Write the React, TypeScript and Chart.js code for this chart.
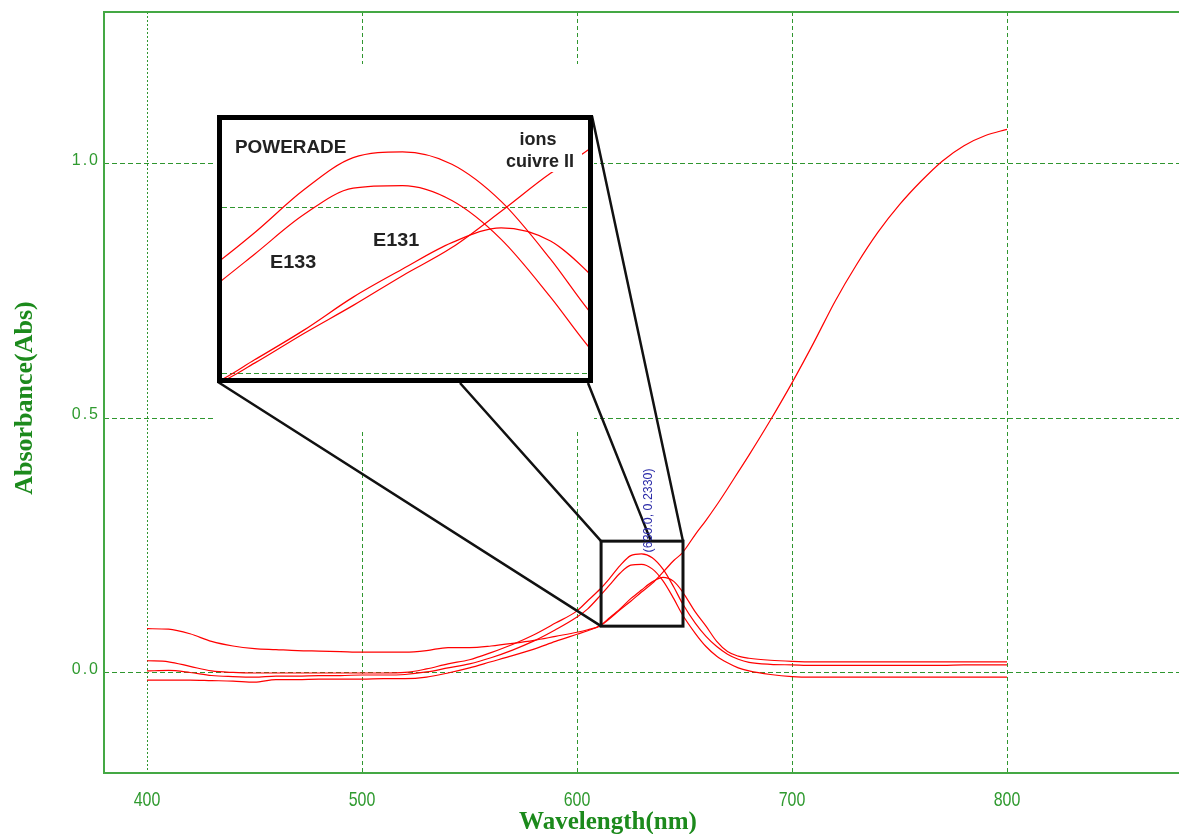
import { useEffect, useRef } from "react";
import { Chart, registerables } from "chart.js";

Chart.register(...registerables);

// ---------- data (wavelength in nm, absorbance) ----------
const wavelengths = [
  400, 410, 420, 430, 440, 450, 460, 470, 480, 490, 500, 510, 520, 530, 540, 550, 560, 570, 580, 590, 600,
  605, 611, 615, 620, 625, 630, 635, 640, 645, 649,
  655, 660, 665, 670, 675, 680,
  690, 700, 710, 720, 730, 740, 750, 760, 770, 780, 790, 800,
];

const cuivreII = [
  0.087, 0.086, 0.077, 0.062, 0.053, 0.048, 0.046, 0.044, 0.043, 0.042, 0.041, 0.041, 0.041, 0.044, 0.05, 0.05, 0.053, 0.058, 0.064, 0.072, 0.08,
  0.085, 0.093, 0.106, 0.124, 0.141, 0.159, 0.176, 0.198, 0.221, 0.236,
  0.272, 0.3, 0.33, 0.362, 0.395, 0.428,
  0.497, 0.57, 0.648, 0.73, 0.802, 0.866, 0.92, 0.966, 1.006, 1.036, 1.056, 1.068,
];

const powerade = [
  0.024, 0.022, 0.013, 0.004, 0.001, 0.0, 0.0, 0.0, 0.0, 0.0, 0.0, 0.0, 0.001, 0.008, 0.018, 0.026, 0.04, 0.056, 0.075, 0.098, 0.122,
  0.142, 0.166, 0.185, 0.211, 0.2305, 0.234, 0.2265, 0.204, 0.169, 0.137,
  0.098, 0.072, 0.052, 0.037, 0.027, 0.021,
  0.017, 0.016, 0.015, 0.015, 0.015, 0.015, 0.015, 0.015, 0.015, 0.016, 0.016, 0.016,
];

const e133 = [
  0.004, 0.005, 0.001, -0.005, -0.007, -0.008, -0.006, -0.006, -0.005, -0.005, -0.004, -0.004, -0.003, 0.002, 0.01, 0.018, 0.03, 0.045, 0.063, 0.085, 0.11,
  0.126, 0.153, 0.172, 0.196, 0.212, 0.2135, 0.2045, 0.181, 0.146, 0.115,
  0.078, 0.052, 0.033, 0.02, 0.01, 0.004,
  -0.003, -0.007, -0.008, -0.008, -0.008, -0.008, -0.008, -0.008, -0.008, -0.008, -0.008, -0.008,
];

const e131 = [
  -0.014, -0.014, -0.014, -0.015, -0.016, -0.018, -0.013, -0.013, -0.012, -0.012, -0.012, -0.011, -0.011, -0.008, 0.0, 0.01, 0.022, 0.034, 0.047, 0.062, 0.076,
  0.083, 0.094, 0.108, 0.126, 0.146, 0.163, 0.179, 0.188, 0.18, 0.16,
  0.12, 0.092, 0.062, 0.042, 0.033, 0.029,
  0.025, 0.023, 0.022, 0.022, 0.022, 0.022, 0.022, 0.022, 0.022, 0.022, 0.022, 0.022,
];

const seriesNames = ["ions cuivre II", "POWERADE", "E133", "E131"];

const xTickValues = [400, 500, 600, 700, 800];
const xTickLabels = ["400", "500", "600", "700", "800"];
const yTickValues = [0.0, 0.5, 1.0];
const yTickLabels = ["0.0", "0.5", "1.0"];

const xRange = [380, 880];
const yRange = [-0.1965, 1.2986];

// zoom window (data coordinates) shown in the inset
const zoomX = [611.2, 649.3];
const zoomY = [0.092, 0.259];
const insetXRange = [611.7, 648.8];
const insetYRange = [0.097, 0.2533];
const insetGridValues = [0.1, 0.2];

const peakPoint = [630.0, 0.233];
const peakLabel = "(630.0, 0.2330)";

const xTitle = "Wavelength(nm)";
const yTitle = "Absorbance(Abs)";

// ---------- styling ----------
const GREEN = "#2f9a2f";
const GRID = "#2f962f";
const RED = "#ff0000";

const W = 1179;
const H = 834;
const INSET = { left: 217, top: 115, width: 376, height: 268, frame: 5 };

const series = [cuivreII, powerade, e133, e131];

function toPoints(ys: number[]) {
  return wavelengths.map((x, i) => ({ x, y: ys[i] }));
}

function scaledText(
  ctx: CanvasRenderingContext2D,
  text: string,
  x: number,
  y: number,
  font: string,
  color: string,
  sx: number,
  align: CanvasTextAlign,
  spacing = "0px"
) {
  ctx.save();
  ctx.font = font;
  ctx.fillStyle = color;
  ctx.textAlign = align;
  ctx.textBaseline = "alphabetic";
  (ctx as any).letterSpacing = spacing;
  ctx.translate(x, y);
  ctx.scale(sx, 1);
  ctx.fillText(text, 0, 0);
  ctx.restore();
}

const mainDecor = {
  id: "mainDecor",
  beforeDatasetsDraw(chart: any) {
    const { ctx } = chart;
    // white area behind the inset (hides the grid there)
    ctx.save();
    ctx.fillStyle = "#ffffff";
    ctx.fillRect(INSET.left - 3, 64, INSET.width + 4, 365);
    ctx.restore();
  },
  afterDatasetsDraw(chart: any) {
    const { ctx, chartArea: a, scales } = chart;
    const xs = scales.x;
    const ys = scales.y;
    ctx.save();
    // frame (left, top, bottom)
    ctx.fillStyle = "#44a844";
    ctx.fillRect(a.left - 1, a.top - 1, 2, a.bottom - a.top + 2);
    ctx.fillRect(a.left - 1, a.top - 1, a.right - a.left + 1, 2);
    ctx.fillRect(a.left - 1, a.bottom - 1, a.right - a.left + 1, 2);

    // zoom box
    const bx1 = xs.getPixelForValue(zoomX[0]);
    const bx2 = xs.getPixelForValue(zoomX[1]);
    const by1 = ys.getPixelForValue(zoomY[1]);
    const by2 = ys.getPixelForValue(zoomY[0]);
    ctx.strokeStyle = "#111111";
    ctx.lineWidth = 3;
    ctx.strokeRect(bx1, by1, bx2 - bx1, by2 - by1);

    // connector lines from inset to box
    const iL = INSET.left;
    const iT = INSET.top;
    const iR = INSET.left + INSET.width;
    const iB = INSET.top + INSET.height;
    const midTop = xs.getPixelForValue(634.4);
    ctx.lineWidth = 2.5;
    ctx.beginPath();
    ctx.moveTo(iL + 1, iB - 1);
    ctx.lineTo(bx1, by2);
    ctx.moveTo(460, iB);
    ctx.lineTo(bx1, by1);
    ctx.moveTo(588, iB);
    ctx.lineTo(midTop, by1);
    ctx.moveTo(iR - 1, iT + 1);
    ctx.lineTo(bx2, by1);
    ctx.stroke();

    // peak annotation (vertical)
    const px = xs.getPixelForValue(peakPoint[0]);
    const py = ys.getPixelForValue(peakPoint[1]);
    ctx.save();
    ctx.translate(px + 10, py - 2);
    ctx.rotate(-Math.PI / 2);
    ctx.font = "12px 'Liberation Sans', Arial, sans-serif";
    ctx.fillStyle = "#2a2aa8";
    ctx.textAlign = "left";
    ctx.textBaseline = "alphabetic";
    const tw = ctx.measureText(peakLabel).width;
    ctx.scale(84 / tw, 1);
    ctx.fillText(peakLabel, 0, 0);
    ctx.restore();

    // tick labels
    xTickValues.forEach((v, i) => {
      scaledText(ctx, xTickLabels[i], xs.getPixelForValue(v), 806, "21px 'Liberation Sans', Arial, sans-serif", GREEN, 0.76, "center");
    });
    yTickValues.forEach((v, i) => {
      scaledText(ctx, yTickLabels[i], 100, ys.getPixelForValue(v) + 1, "16px 'Liberation Sans', Arial, sans-serif", GREEN, 1, "right", "2px");
    });

    // axis titles
    scaledText(ctx, xTitle, 608, 829, "bold 25px 'Liberation Serif', 'Times New Roman', serif", "#1c8a1c", 1, "center");
    ctx.save();
    ctx.translate(32, 398);
    ctx.rotate(-Math.PI / 2);
    ctx.font = "bold 26px 'Liberation Serif', 'Times New Roman', serif";
    ctx.fillStyle = "#1c8a1c";
    ctx.textAlign = "center";
    ctx.textBaseline = "alphabetic";
    ctx.fillText(yTitle, 0, 0);
    ctx.restore();

    ctx.restore();
  },
};

const insetDecor = {
  id: "insetDecor",
  beforeDraw(chart: any) {
    const { ctx, width, height } = chart;
    ctx.save();
    ctx.fillStyle = "#ffffff";
    ctx.fillRect(0, 0, width, height);
    ctx.restore();
  },
  afterDatasetsDraw(chart: any) {
    const { ctx } = chart;
    ctx.save();
    const font = "bold 18px 'Liberation Sans', Arial, sans-serif";
    const col = "#222222";
    const ox = INSET.left;
    const oy = INSET.top;
    // white patch behind the "cuivre II" label
    ctx.fillStyle = "#ffffff";
    ctx.fillRect(500 - ox, 150 - oy, 82, 22);
    scaledText(ctx, "POWERADE", 235 - ox, 153 - oy, font, col, 1.05, "left");
    scaledText(ctx, "ions", 538 - ox, 145 - oy, font, col, 1, "center");
    scaledText(ctx, "cuivre II", 540 - ox, 167 - oy, font, col, 1, "center");
    scaledText(ctx, "E133", 270 - ox, 268 - oy, font, col, 1.1, "left");
    scaledText(ctx, "E131", 373 - ox, 246 - oy, font, col, 1.1, "left");
    ctx.restore();
  },
  afterDraw(chart: any) {
    const { ctx, width, height } = chart;
    ctx.save();
    ctx.strokeStyle = "#000000";
    ctx.lineWidth = INSET.frame;
    ctx.strokeRect(INSET.frame / 2, INSET.frame / 2, width - INSET.frame, height - INSET.frame);
    ctx.restore();
  },
};

function makeDatasets(width: number) {
  return series.map((s, i) => ({
    label: seriesNames[i],
    data: toPoints(s),
    borderColor: RED,
    borderWidth: width,
    pointRadius: 0,
    fill: false,
    cubicInterpolationMode: "monotone" as const,
  }));
}

export default function App() {
  const mainRef = useRef<HTMLCanvasElement>(null);
  const insetRef = useRef<HTMLCanvasElement>(null);

  useEffect(() => {
    const main = new Chart(mainRef.current!, {
      type: "line",
      data: { datasets: makeDatasets(1.2) },
      options: {
        animation: false,
        responsive: false,
        maintainAspectRatio: false,
        layout: { padding: { left: 104, top: 12, right: 0, bottom: 61 } },
        plugins: { legend: { display: false }, tooltip: { enabled: false } },
        scales: {
          x: {
            type: "linear",
            min: xRange[0],
            max: xRange[1],
            afterBuildTicks: (s: any) => {
              s.ticks = xTickValues.map((v) => ({ value: v }));
            },
            ticks: { display: false },
            grid: { color: GRID, lineWidth: 1, drawTicks: false },
            border: {
              display: false,
              dash: (c: any) => (c.tick && c.tick.value === 400 ? [2, 2] : [4, 3]),
            },
          },
          y: {
            type: "linear",
            min: yRange[0],
            max: yRange[1],
            afterBuildTicks: (s: any) => {
              s.ticks = yTickValues.map((v) => ({ value: v }));
            },
            ticks: { display: false },
            grid: { color: GRID, lineWidth: 1, drawTicks: false },
            border: { display: false, dash: [5, 3] },
          },
        },
      },
      plugins: [mainDecor],
    });

    const inset = new Chart(insetRef.current!, {
      type: "line",
      data: { datasets: makeDatasets(1.2) },
      options: {
        animation: false,
        responsive: false,
        maintainAspectRatio: false,
        layout: { padding: INSET.frame },
        plugins: { legend: { display: false }, tooltip: { enabled: false } },
        scales: {
          x: {
            type: "linear",
            min: insetXRange[0],
            max: insetXRange[1],
            ticks: { display: false },
            grid: { display: false, drawTicks: false },
            border: { display: false },
          },
          y: {
            type: "linear",
            min: insetYRange[0],
            max: insetYRange[1],
            afterBuildTicks: (s: any) => {
              s.ticks = insetGridValues.map((v) => ({ value: v }));
            },
            ticks: { display: false },
            grid: { color: GRID, lineWidth: 1, drawTicks: false },
            border: { display: false, dash: [5, 3] },
          },
        },
      },
      plugins: [insetDecor],
    });

    return () => {
      main.destroy();
      inset.destroy();
    };
  }, []);

  return (
    <div style={{ position: "fixed", left: 0, top: 0, width: W, height: H, background: "#fff" }}>
      <canvas ref={mainRef} width={W} height={H} style={{ position: "absolute", left: 0, top: 0, width: W, height: H }} />
      <canvas
        ref={insetRef}
        width={INSET.width}
        height={INSET.height}
        style={{ position: "absolute", left: INSET.left, top: INSET.top, width: INSET.width, height: INSET.height }}
      />
    </div>
  );
}
